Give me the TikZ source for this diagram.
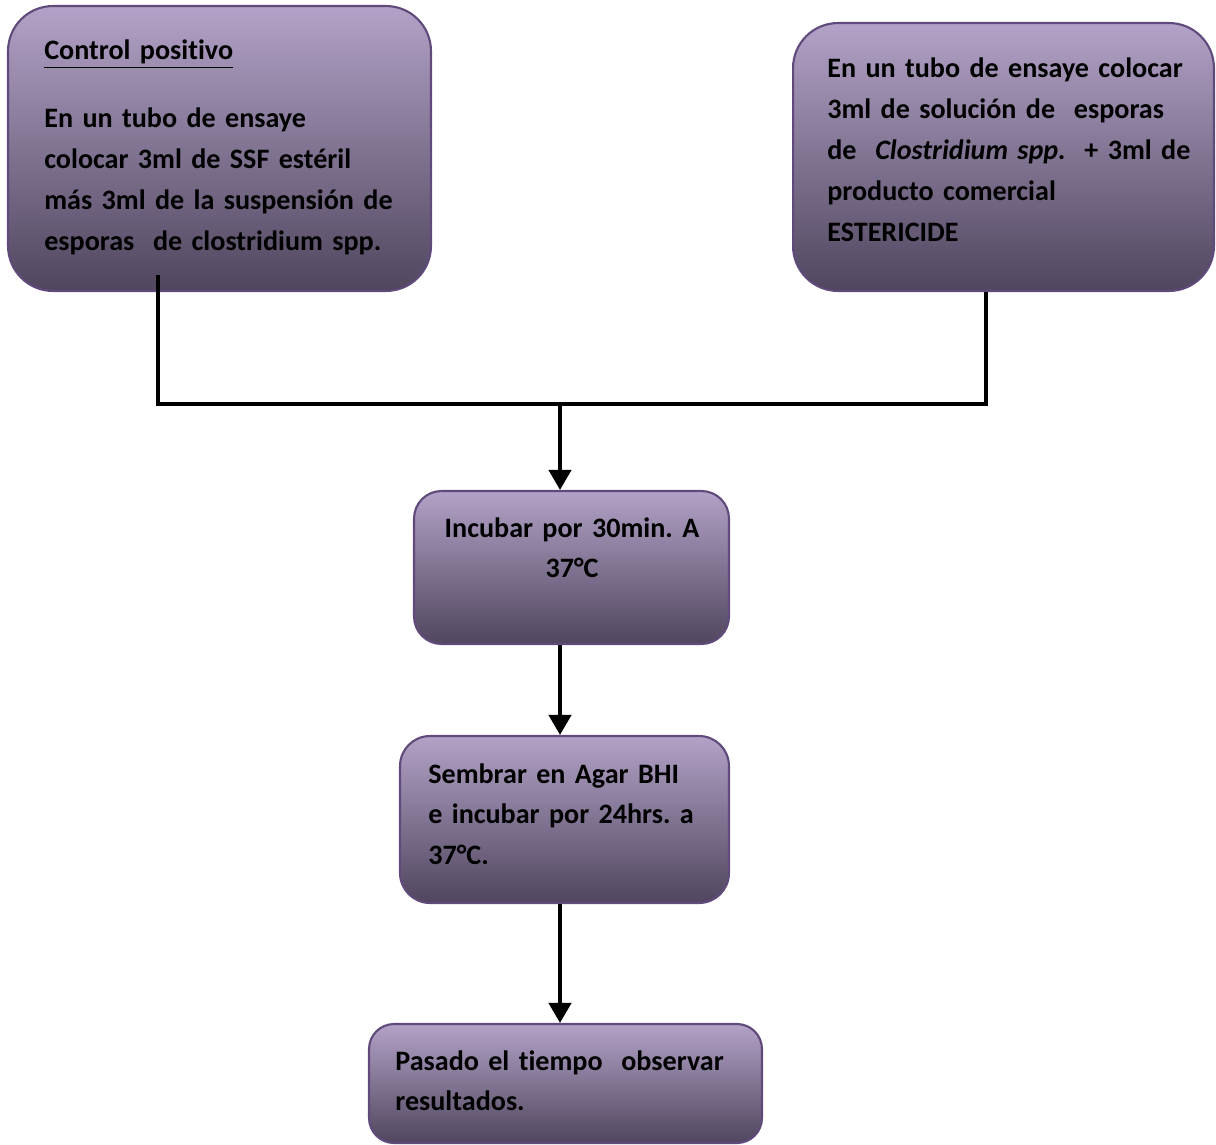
\documentclass[tikz,border=0pt]{standalone}
\usepackage{fontspec}
\setmainfont{Carlito}[Ligatures=NoCommon]
\frenchspacing
\usetikzlibrary{arrows.meta}
\definecolor{boxtop}{RGB}{178,162,199}
\definecolor{boxmid}{RGB}{148,132,168}
\definecolor{boxbot}{RGB}{80,70,94}
\definecolor{boxline}{RGB}{96,74,123}

\begin{document}
\begin{tikzpicture}[x=0.02cm,y=-0.02cm,
  etape/.style={draw=boxline,line width=1.2pt,top color=boxtop,middle color=boxmid,bottom color=boxbot},
  texte/.style={inner sep=0pt,align=left,font={\fontsize{16}{23.3}\selectfont\bfseries}},
  lien/.style={line width=2.3pt},
  fleche/.style={line width=2.3pt,-{Triangle[width=0.44cm,length=0.4cm]}}]
\useasboundingbox (0,0) rectangle (1216,1145);
% les cases
\node[etape,minimum width=8.46cm,minimum height=5.7cm,rounded corners=0.9cm] (controle) at (219.5,148.5) {};
\node[etape,minimum width=8.42cm,minimum height=5.36cm,rounded corners=0.9cm] (producto) at (1003.5,157) {};
\node[etape,minimum width=6.3cm,minimum height=3.06cm,rounded corners=0.55cm] (incubar) at (571.5,567.5) {};
\node[etape,minimum width=6.58cm,minimum height=3.34cm,rounded corners=0.6cm] (sembrar) at (564.5,819.5) {};
\node[etape,minimum width=7.86cm,minimum height=2.38cm,rounded corners=0.5cm] (resultado) at (565.5,1083.5) {};
% les textes
\node[texte,text width=8cm,anchor=base west] (tcontrole) at (44,60) {\underline{Control positivo}\\[15pt]
  En un tubo de ensaye\\ colocar 3ml de SSF estéril\\ más 3ml de la suspensión de\\ esporas\ \ de clostridium spp.};
\node[texte,text width=8cm,anchor=base west] (tproducto) at (827,78) {En un tubo de ensaye colocar\\
  3ml de solución de\ \ esporas\\ de\ \ \textit{Clostridium spp.}\ \ + 3ml de\\ producto comercial\\ ESTERICIDE};
\node[texte,text width=6cm,align=center,anchor=base] (tincubar) at (572,537) {Incubar por 30min. A\\ 37°C};
\node[texte,text width=6cm,anchor=base west] (tsembrar) at (428,783) {Sembrar en Agar BHI\\ e incubar por 24hrs. a\\ 37°C.};
\node[texte,text width=7cm,anchor=base west] (tresultado) at (395,1070) {Pasado el tiempo\ \ observar\\ resultados.};
% les liens
\coordinate (coinG) at (158,404);
\coordinate (coinD) at (986,404);
\coordinate (centre) at (560,404);
\draw[lien] ([yshift=0.34cm]controle.south -| coinG) -- (coinG) -- (coinD) -- (producto.south -| coinD);
\draw[fleche] (centre) -- (centre |- incubar.north);
\draw[fleche] (incubar.south -| centre) -- (sembrar.north -| centre);
\draw[fleche] (sembrar.south -| centre) -- (resultado.north -| centre);
\end{tikzpicture}
\end{document}
